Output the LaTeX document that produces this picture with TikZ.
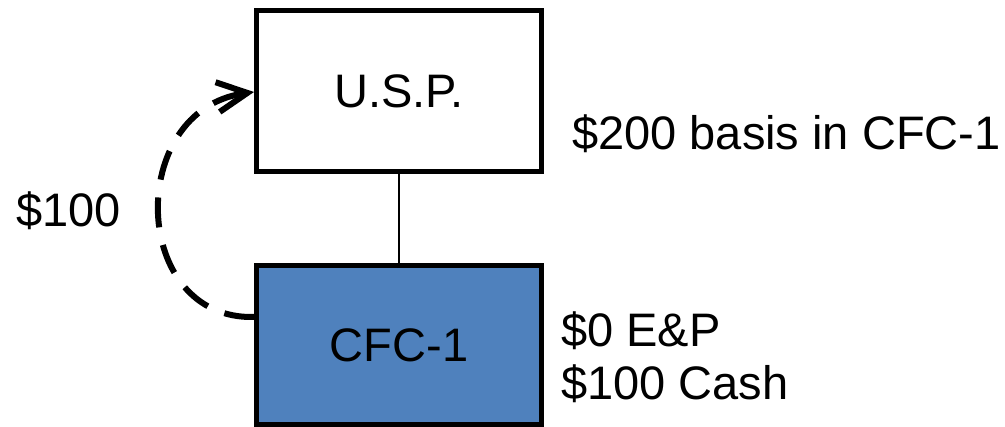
\documentclass[tikz,border=0pt]{standalone}
\usepackage{fontspec}
\setmainfont{Liberation Sans}
\usetikzlibrary{arrows.meta}
\definecolor{officeblue}{HTML}{4F81BD}
\begin{document}
\begin{tikzpicture}[x=1pt,y=-1pt,
  every node/.style={font=\fontsize{47}{56}\selectfont, inner sep=0pt},
  entity/.style={draw=black, line width=5pt, minimum width=285pt, align=center},
  label/.style={anchor=base west},
  link/.style={line width=1.5pt},
  flow/.style={line width=6pt, dash pattern=on 30pt off 18pt,
    -{Straight Barb[length=30pt,width=30pt,line width=6pt]}}]
\useasboundingbox (0,0) rectangle (1005,427);
\node[entity, minimum height=161pt] (usp) at (399,91) {U.S.P.};
\node[entity, minimum height=159pt, fill=officeblue] (cfc) at (399,345) {CFC-1};
\draw[link] (usp.south) -- (cfc.north);
\draw[flow] ([yshift=28pt]cfc.west) .. controls (130,320) and (125,110) .. ([yshift=-1pt]usp.west);
\node[label] (basis) at (572,150) {\$200 basis in CFC-1};
\node[label] (amt) at (16,227) {\$100};
\node[label] (ep) at (561,347) {\$0 E\&P};
\node[label] (cash) at (561,400) {\$100 Cash};
\end{tikzpicture}
\end{document}
